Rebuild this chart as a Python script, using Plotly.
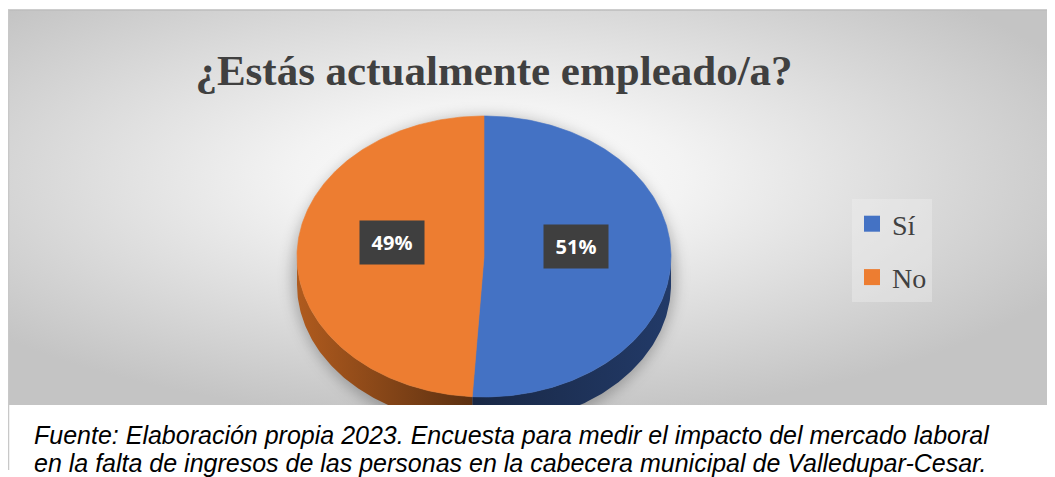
import base64
import numpy as np
import plotly.graph_objects as go

# data
labels = ["Sí", "No"]
values = [51, 49]
slice_text = ["51%", "49%"]

top_colors = ["#4472C4", "#ED7D31"]
side_grads = [
    [[0, "#192845"], [1, "#223a68"]],
    [[0, "#b05b1e"], [1, "#5c3011"]],
]

title_text = "¿Estás actualmente empleado/a?"
caption_lines = [
    "Fuente: Elaboración propia 2023. Encuesta para medir el impacto del mercado laboral",
    "en la falta de ingresos de las personas en la cabecera municipal de Valledupar-Cesar.",
]

# the page body has an 8px margin, so the figure starts at (8, 8) in the window
OFF = 8
W, H = 1055 - OFF, 477 - OFF


def px(x):
    return (x - OFF) / W


def py(y):
    return 1 - (y - OFF) / H


# chart area (window pixels)
X0, X1, Y0, Y1 = 8, 1055, 10, 405

# 3d pie geometry, in window pixel units of the hidden axes
cx, cy, rx, ry, depth = 484, 256.5, 187, 140.5, 28
label_r, label_lift = 0.49, 12


def rim(t):
    return cx + rx * np.sin(t), cy - ry * np.cos(t)


# background: radial grey gradient + soft shadow under the pie
bw, bh = X1 - X0, Y1 - Y0
svg = f"""<svg xmlns='http://www.w3.org/2000/svg' width='{bw}' height='{bh}' viewBox='0 0 {bw} {bh}'>
<defs>
<radialGradient id='g' cx='0.46' cy='0.42' r='0.62'>
<stop offset='0' stop-color='#ffffff'/>
<stop offset='0.3' stop-color='#f3f3f3'/>
<stop offset='1' stop-color='#c4c4c4'/>
</radialGradient>
<filter id='b' x='-20%' y='-20%' width='140%' height='140%'><feGaussianBlur stdDeviation='7'/></filter>
</defs>
<rect width='{bw}' height='{bh}' fill='url(#g)'/>
<ellipse cx='{cx - X0}' cy='{cy - Y0 + depth / 2 + 4}' rx='{rx + 5}' ry='{ry + depth / 2 + 4}' fill='#000' fill-opacity='0.25' filter='url(#b)'/>
</svg>"""
bg_src = "data:image/svg+xml;base64," + base64.b64encode(svg.encode("utf-8")).decode()

fig = go.Figure()

total = sum(values)
bounds = np.concatenate([[0], np.cumsum(values)]) / total * 2 * np.pi

# sides first (only the front half is visible)
for i, lab in enumerate(labels):
    t0, t1 = max(bounds[i], np.pi / 2), min(bounds[i + 1], 3 * np.pi / 2)
    if t1 <= t0:
        continue
    ts = np.linspace(t0, t1, 120)
    xs, ys = rim(ts)
    fig.add_trace(
        go.Scatter(
            x=np.concatenate([xs, xs[::-1]]),
            y=np.concatenate([ys, (ys + depth)[::-1]]),
            fill="toself",
            mode="lines",
            line=dict(width=0),
            fillgradient=dict(type="horizontal", colorscale=side_grads[i]),
            hoverinfo="skip",
            showlegend=False,
        )
    )

# top faces
for i, lab in enumerate(labels):
    ts = np.linspace(bounds[i], bounds[i + 1], 240)
    xs, ys = rim(ts)
    fig.add_trace(
        go.Scatter(
            x=np.concatenate([[cx], xs, [cx]]),
            y=np.concatenate([[cy], ys, [cy]]),
            fill="toself",
            fillcolor=top_colors[i],
            mode="lines",
            line=dict(width=0.6, color=top_colors[i]),
            name=lab,
            hoverinfo="text",
            text=f"{lab}: {slice_text[i]}",
            showlegend=False,
        )
    )
    mid = (bounds[i] + bounds[i + 1]) / 2
    fig.add_annotation(
        x=cx + rx * label_r * np.sin(mid),
        y=cy - ry * label_r * np.cos(mid) - label_lift,
        xref="x", yref="y",
        text=f"<b>{slice_text[i]}</b>",
        showarrow=False,
        font=dict(family="Open Sans", size=20, color="white"),
        bgcolor="#3f3f3f",
        width=62, height=41,
        align="center", valign="middle",
    )

# legend entries
for i, lab in enumerate(labels):
    fig.add_trace(
        go.Scatter(
            x=[None], y=[None],
            mode="markers",
            marker=dict(symbol="square", size=16, color=top_colors[i]),
            name=lab,
            legendgroup=lab,
        )
    )

for k, line in enumerate(caption_lines):
    fig.add_annotation(
        x=px(32), y=py(435 + 28 * k),
        xref="paper", yref="paper",
        xanchor="left", yanchor="middle",
        text=f"<i>{line}</i>",
        showarrow=False,
        font=dict(family="Liberation Sans", size=25, color="black"),
    )

fig.add_layout_image(
    source=bg_src,
    xref="paper", yref="paper",
    x=px(X0), y=py(Y0),
    sizex=(X1 - X0) / W, sizey=(Y1 - Y0) / H,
    xanchor="left", yanchor="top",
    sizing="stretch",
    layer="below",
)

fig.add_shape(type="line", xref="paper", yref="paper",
              x0=px(X0), x1=1, y0=py(Y0), y1=py(Y0),
              line=dict(color="#bdbdbd", width=1.5))
fig.add_shape(type="line", xref="paper", yref="paper",
              x0=px(X0) + 0.5 / W, x1=px(X0) + 0.5 / W, y0=py(Y0), y1=py(470),
              line=dict(color="#c8c8c8", width=1.5))

fig.update_layout(
    width=W, height=H,
    margin=dict(l=0, r=0, t=0, b=0),
    paper_bgcolor="white",
    plot_bgcolor="rgba(0,0,0,0)",
    title=dict(
        text=f"<b>{title_text}</b>",
        x=px(494), xanchor="center",
        y=py(70), yanchor="middle",
        font=dict(family="Liberation Serif", size=43, color="#404040"),
    ),
    xaxis=dict(domain=[px(X0), 1], range=[X0, X1], visible=False, fixedrange=True),
    yaxis=dict(domain=[py(Y1), py(Y0)], range=[Y1, Y0], visible=False, fixedrange=True),
    legend=dict(
        x=px(852), y=py(199),
        xanchor="left", yanchor="top",
        bgcolor="rgba(240,240,240,0.4)",
        font=dict(family="Liberation Serif", size=28, color="#404040"),
        traceorder="grouped",
        tracegroupgap=14,
    ),
    showlegend=True,
)

fig.write_html("out.html")
